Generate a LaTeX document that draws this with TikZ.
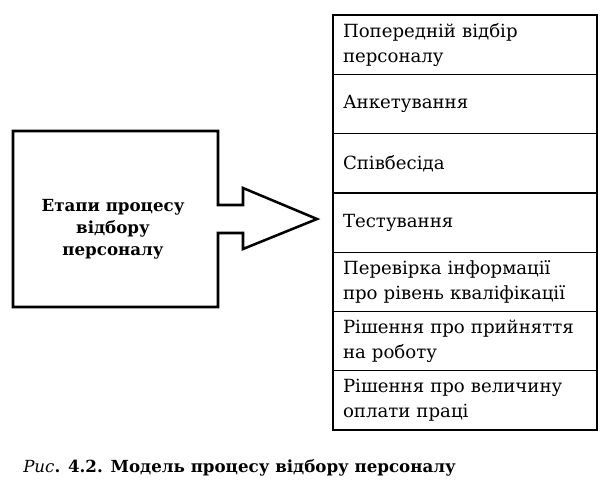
\documentclass[tikz,border=0pt]{standalone}
\usepackage{fontspec}
\setmainfont{DejaVu Serif}
\usepackage{tikz}

\begin{document}
\begin{tikzpicture}[x=0.75pt,y=0.75pt,yscale=-1,xscale=1,
  stage/.style={draw, line width=0.9pt, anchor=north west, outer sep=0pt,
    inner xsep=7.5pt, inner ysep=0pt, text width=183pt, minimum height=44.47pt,
    align=left, font=\fontsize{13.6}{18.8}\selectfont},
  bigbox/.style={line width=1.9pt, line join=miter}]
\useasboundingbox (0,0) rectangle (611,486);

%Shape: Box with arrow [id:stagesbox]
\draw [bigbox] (13,131) -- (218,131) -- (218,205) -- (243,205) -- (243,188) -- (317,219) -- (243,249) -- (243,233) -- (218,233) -- (218,307) -- (13,307) -- cycle ;

% Text Node
\node [align=center, font=\bfseries\fontsize{12.5}{16.5}\selectfont] (stages) at (113,229) {Етапи процесу\\відбору\\персоналу};

% Text Node
\node [stage] (prelim) at (333,15) {Попередній відбір\\персоналу};
% Text Node
\node [stage] (survey) at (333,74.3) {Анкетування};
% Text Node
\node [stage] (interview) at (333,133.6) {Співбесіда};
% Text Node
\node [stage] (testing) at (333,192.9) {Тестування};
% Text Node
\node [stage] (check) at (333,252.1) {Перевірка інформації\\про рівень кваліфікації};
% Text Node
\node [stage] (hire) at (333,311.4) {Рішення про прийняття\\на роботу};
% Text Node
\node [stage] (salary) at (333,370.7) {Рішення про величину\\оплати праці};

% Text Node
\node [anchor=base west, inner sep=0pt, font=\bfseries\fontsize{12.5}{14}\selectfont] (caption) at (23,472) {\textmd{\textit{Рис}}. 4.2. Модель процесу відбору персоналу};

\end{tikzpicture}
\end{document}
